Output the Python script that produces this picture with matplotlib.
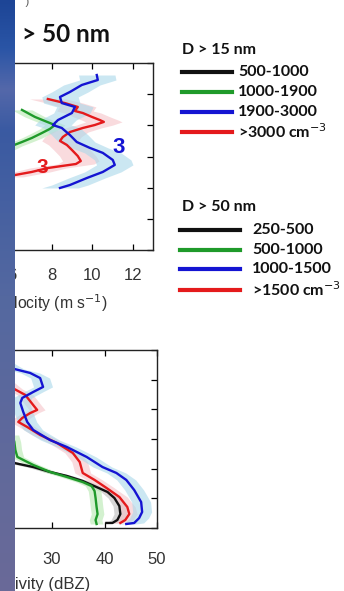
import numpy as np
import matplotlib
matplotlib.use("Agg")
import matplotlib.pyplot as plt
from matplotlib.colors import LinearSegmentedColormap

plt.rcParams["font.family"] = ["Liberation Sans", "DejaVu Sans"]

# profiles: (x value, height) pairs read per curve
# upper panel: vertical velocity (m s-1)
w_green_x = [6.52, 7.16, 7.65, 8.15, 7.90, 7.51, 7.01, 6.52, 6.02, 5.43]
w_green_y = [8.99, 8.54, 8.28, 8.02, 7.77, 7.51, 7.19, 6.93, 6.68, 6.29]

w_blue_x = [10.22, 10.27, 9.48, 8.89, 8.40, 8.49, 9.14, 8.99, 8.30, 8.05,
            8.49, 8.89, 9.23, 9.88, 10.52, 11.01, 11.11, 10.52, 9.73, 8.89, 8.40]
w_blue_y = [11.23, 10.91, 10.59, 10.14, 9.82, 9.43, 9.18, 8.79, 8.34, 8.02,
            7.83, 7.38, 6.93, 6.55, 6.23, 5.78, 5.46, 5.01, 4.62, 4.17, 3.98]

w_red_x = [7.80, 8.64, 9.28, 9.14, 9.53, 9.98, 10.37, 10.57, 10.12, 9.53, 8.89,
           8.54, 8.40, 8.74, 8.99, 9.28, 9.43, 9.19, 8.49, 7.80, 7.01, 6.17, 5.68]
w_red_y = [9.69, 9.43, 9.18, 8.92, 8.79, 8.54, 8.34, 8.22, 8.02, 7.83, 7.57,
           7.25, 7.00, 6.74, 6.42, 6.03, 5.71, 5.52, 5.39, 5.26, 5.01, 4.81, 4.69]

# lower panel: radar reflectivity (dBZ)
z_black_x = [21.13, 22.83, 26.42, 29.62, 32.83, 35.85, 38.49, 40.57, 41.89,
             42.83, 43.02, 42.45, 41.51, 40.38]
z_black_y = [4.59, 4.38, 4.11, 3.78, 3.51, 3.17, 2.76, 2.43, 2.02,
             1.48, 0.94, 0.54, 0.34, 0.34]

z_green_x = [22.45, 22.83, 23.02, 23.40, 26.42, 29.62, 32.83, 35.85, 37.55,
             38.11, 38.30, 38.49, 38.68, 38.30, 38.49]
z_green_y = [6.27, 5.80, 5.26, 4.79, 4.25, 3.78, 3.44, 3.10, 2.83,
             2.49, 2.02, 1.42, 0.94, 0.54, 0.27]

z_blue_x = [21.0, 22.83, 25.85, 27.74, 28.30, 26.42, 24.34, 23.96, 24.53, 25.28,
            26.42, 29.62, 32.83, 36.60, 39.62, 42.26, 44.15, 45.66, 46.98,
            47.17, 46.60, 45.66, 44.15]
z_blue_y = [11.1, 10.72, 10.45, 10.11, 9.51, 9.17, 8.77, 8.43, 7.82, 7.15,
            6.61, 5.93, 5.46, 4.79, 4.11, 3.71, 3.24, 2.56, 1.75,
            1.08, 0.67, 0.34, 0.27]

z_red_x = [21.0, 22.83, 24.91, 26.42, 27.17, 25.85, 24.34, 23.58, 25.28, 27.74,
           30.94, 33.96, 35.28, 35.85, 38.11, 40.38, 42.83, 44.34, 44.72,
           43.96, 43.02]
z_red_y = [9.9, 9.37, 8.97, 8.29, 7.96, 7.75, 7.42, 7.15, 6.81, 6.27,
           5.73, 5.06, 4.45, 3.71, 3.24, 2.70, 2.09, 1.42, 0.94,
           0.54, 0.34]

legend_15 = ["500-1000", "1000-1900", "1900-3000", ">3000 cm$^{-3}$"]
legend_50 = ["250-500", "500-1000", "1000-1500", ">1500 cm$^{-3}$"]

BLACK = "#111111"
GREEN = "#1f9a2a"
BLUE = "#1414d2"
RED = "#e41a1c"
shade = {BLACK: "#bbbbbb", GREEN: "#b6e8b0", BLUE: "#a9d8ea", RED: "#f6c3c8"}

W, H = 344, 591
fig = plt.figure(figsize=(W / 100, H / 100), dpi=100)
fig.patch.set_facecolor("white")


def px_axes(left, top, right, bottom):
    return fig.add_axes([left / W, 1 - bottom / H, (right - left) / W, (bottom - top) / H])


def profile(ax, xs, ys, color, spread):
    xs = np.asarray(xs)
    ys = np.asarray(ys)
    ax.fill_betweenx(ys, xs - spread, xs + spread, color=shade[color],
                     alpha=0.6, lw=0, zorder=1)
    ax.plot(xs, ys, color=color, lw=1.7, zorder=3)


def style(ax, pad):
    ax.tick_params(direction="in", top=True, right=True, length=4, width=0.9,
                   labelsize=12, labelcolor="#333333", pad=pad)
    ax.set_yticklabels([])
    for s in ax.spines.values():
        s.set_linewidth(1.0)
        s.set_color("#222222")


# upper panel
ax1 = px_axes(-29, 63, 153, 250)
profile(ax1, w_green_x, w_green_y, GREEN, 0.5)
profile(ax1, w_red_x, w_red_y, RED, 0.9)
profile(ax1, w_blue_x, w_blue_y, BLUE, 0.9)
ax1.set_xlim(4, 13)
ax1.set_ylim(0, 12)
ax1.set_xticks([4, 6, 8, 10, 12])
ax1.set_yticks(np.arange(0, 13, 2))
style(ax1, 13)
ax1.text(7.55, 5.3, "3", color=RED, fontsize=15, fontweight="bold",
         ha="center", va="center", zorder=4)
ax1.text(11.3, 6.6, "3", color=BLUE, fontsize=16, fontweight="bold",
         ha="center", va="center", zorder=4)
ax1.set_xlabel("Vertical velocity (m s$^{-1}$)", fontsize=11.3, color="#333333",
               ha="right", va="center")
ax1.xaxis.set_label_coords(0.753, -0.283)

# lower panel
ax2 = px_axes(-53, 350, 157, 528)
profile(ax2, z_black_x, z_black_y, BLACK, 1.2)
profile(ax2, z_green_x, z_green_y, GREEN, 1.2)
profile(ax2, z_red_x, z_red_y, RED, 1.5)
profile(ax2, z_blue_x, z_blue_y, BLUE, 1.8)
ax2.set_xlim(10, 50)
ax2.set_ylim(0, 12)
ax2.set_xticks([10, 20, 30, 40, 50])
ax2.set_yticks(np.arange(0, 13, 2))
style(ax2, 17)
ax2.set_xlabel("Radar reflectivity (dBZ)", fontsize=12, color="#333333",
               ha="right", va="center")
ax2.xaxis.set_label_coords(0.681, -0.32)

# panel heading and stray caption line above it
fig.text(22 / W, 1 - 35 / H, "> 50 nm", fontsize=17.5, fontweight="bold",
         family="Lato", color="#111111", va="center")
fig.text(15 / W, 1 - 2 / H, "''  )", fontsize=8, color="#555555", va="center")

# legends drawn as line samples plus labels
colors = [BLACK, GREEN, BLUE, RED]


def legend_block(title, labels, ty, ys, x0, x1, tx):
    fig.text(182 / W, 1 - ty / H, title, fontsize=11.5, fontweight="bold",
             family="Lato", color="#111111", va="center")
    for lab, c, y in zip(labels, colors, ys):
        fig.add_artist(plt.Line2D([x0 / W, x1 / W], [1 - y / H, 1 - y / H],
                                  color=c, lw=3.0))
        fig.text(tx / W, 1 - y / H, lab, fontsize=11.5, fontweight="bold",
                 family="Lato", color="#111111", va="center")


legend_block("D > 15 nm", legend_15, 50, [72, 92, 112, 132], 182, 232, 238)
legend_block("D > 50 nm", legend_50, 207, [230, 250, 269, 290], 180, 240, 252)

# slide background strip on the left edge
strip = fig.add_axes([0, 0, 14 / W, 1], zorder=10)
cmap = LinearSegmentedColormap.from_list(
    "slide", [(0.0, "#1d4596"), (0.08, "#2a55a6"), (0.15, "#5468aa"),
              (0.22, "#3a5aa2"), (0.5, "#5468a0"), (1.0, "#6a6a98")])
strip.imshow(np.linspace(0, 1, 256)[:, None], aspect="auto", cmap=cmap,
             extent=[0, 1, 1, 0])
strip.set_axis_off()

fig.savefig("out.png", dpi=100)
